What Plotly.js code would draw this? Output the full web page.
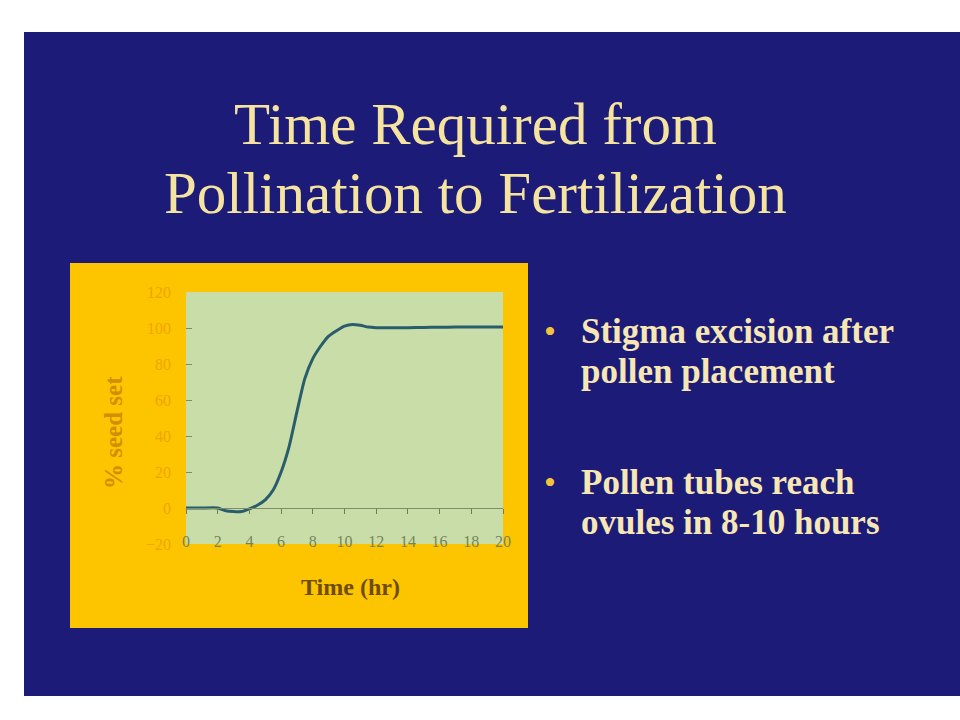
<!DOCTYPE html>
<html>
<head>
<meta charset="utf-8">
<script src="https://cdn.plot.ly/plotly-3.0.1.min.js"></script>
<style>html,body{margin:0;padding:0;background:#fff;}#chart{width:960px;height:720px;}</style>
</head>
<body>
<div id="chart"></div>
<script>
// ---- data ----
const hours    = [0, 1, 2, 2.5, 3, 3.5, 4, 4.5, 5, 5.5, 6, 6.5, 7, 7.5, 8, 8.5, 9, 9.5, 10, 10.5, 11, 11.5, 12, 13, 14, 15, 16, 17, 18, 19, 20];
const seedSet  = [0, 0, 0, -1.5, -2, -2, -0.5, 1.5, 4.5, 10, 20, 34, 53.5, 72, 83, 90, 95.5, 98.5, 101, 102, 101.5, 100.5, 100.2, 100.2, 100.2, 100.3, 100.4, 100.5, 100.5, 100.5, 100.5];
const xTicks   = [0, 2, 4, 6, 8, 10, 12, 14, 16, 18, 20];
const yTicks   = [-20, 0, 20, 40, 60, 80, 100, 120];
const titleLines  = ["Time Required from", "Pollination to Fertilization"];
const bulletLines = [["Stigma excision after", "pollen placement"], ["Pollen tubes reach", "ovules in 8-10 hours"]];
const xTitle = "Time (hr)";
const yTitle = "% seed set";

// ---- layout helpers (pixel -> paper) ----
const L = 186, R = 503, T = 292, B = 544;
const px = v => (v - L) / (R - L);
const py = v => (B - v) / (B - T);

const serif = "Liberation Serif, Times New Roman, serif";
const cream = "#f6e7b4";

const annotations = [];
titleLines.forEach((t, i) => annotations.push({
  text: t, xref: "paper", yref: "paper", x: px(475), y: py([124, 193][i]),
  xanchor: "center", yanchor: "middle", showarrow: false,
  font: {family: serif, size: 59, color: "#f5e3a0"}
}));
const bulletY = [[331, 371], [482, 522]];
bulletLines.forEach((lines, b) => {
  annotations.push({
    text: "•", xref: "paper", yref: "paper", x: px(550), y: py(bulletY[b][0]),
    xanchor: "center", yanchor: "middle", showarrow: false,
    font: {family: serif, size: 34, color: "#f2c43a"}
  });
  lines.forEach((t, i) => annotations.push({
    text: "<b>" + t + "</b>", xref: "paper", yref: "paper", x: px(579), y: py(bulletY[b][i]),
    xanchor: "left", yanchor: "middle", showarrow: false,
    font: {family: serif, size: 35, color: cream}
  }));
});
annotations.push({
  text: "<b>" + xTitle + "</b>", xref: "paper", yref: "paper", x: px(350), y: py(587),
  xanchor: "center", yanchor: "middle", showarrow: false,
  font: {family: serif, size: 24, color: "#6e4c00"}
});
annotations.push({
  text: "<b>" + yTitle + "</b>", xref: "paper", yref: "paper", x: px(113), y: py(433),
  xanchor: "center", yanchor: "middle", showarrow: false, textangle: -90,
  font: {family: serif, size: 25, color: "#cf8f00"}
});

const shapes = [
  {type: "rect", xref: "paper", yref: "paper", x0: px(24), x1: px(960), y0: py(696), y1: py(32),
   fillcolor: "#1d1b78", line: {width: 0}, layer: "below"},
  {type: "rect", xref: "paper", yref: "paper", x0: px(70), x1: px(528), y0: py(628), y1: py(263),
   fillcolor: "#fdc400", line: {width: 0}, layer: "below"},
  {type: "rect", xref: "paper", yref: "paper", x0: 0, x1: 1, y0: 0, y1: 1,
   fillcolor: "#c9dda8", line: {width: 0}, layer: "below"}
];

const zeroPos = (0 - yTicks[0]) / (yTicks[yTicks.length - 1] - yTicks[0]);

const trace = {
  x: hours, y: seedSet, type: "scatter", mode: "lines",
  line: {color: "#2a5d6c", width: 3, shape: "spline", smoothing: 0.6},
  hoverinfo: "skip", showlegend: false
};

const layout = {
  width: 960, height: 720,
  margin: {l: L, r: 960 - R, t: T, b: 720 - B, pad: 0},
  paper_bgcolor: "#ffffff", plot_bgcolor: "rgba(0,0,0,0)",
  showlegend: false,
  xaxis: {
    range: [xTicks[0], xTicks[xTicks.length - 1]], tickvals: xTicks,
    anchor: "free", position: zeroPos,
    showgrid: false, zeroline: false, showline: true, linecolor: "#7d8d6a", linewidth: 1,
    ticks: "outside", ticklen: 5, tickcolor: "#6f7f5c", tickwidth: 1,
    ticklabelstandoff: 14,
    tickfont: {family: serif, size: 16, color: "#76845c"}, fixedrange: true
  },
  xaxis2: {
    overlaying: "x", range: [xTicks[0], xTicks[xTicks.length - 1]], tickvals: xTicks,
    anchor: "free", position: zeroPos, side: "bottom",
    showgrid: false, zeroline: false, showline: false, showticklabels: false,
    ticks: "inside", ticklen: 5, tickcolor: "#6f7f5c", tickwidth: 1
  },
  yaxis: {
    range: [yTicks[0], yTicks[yTicks.length - 1]], tickvals: yTicks,
    showgrid: false, zeroline: false, showline: false,
    ticks: "inside", ticklen: 6, tickcolor: "#7d8d6a", tickwidth: 1,
    ticklabelstandoff: 14,
    tickfont: {family: serif, size: 16, color: "#f0a400"}, fixedrange: true
  },
  shapes: shapes,
  annotations: annotations
};

Plotly.newPlot("chart", [trace], layout, {staticPlot: true, displayModeBar: false});
</script>
</body>
</html>
